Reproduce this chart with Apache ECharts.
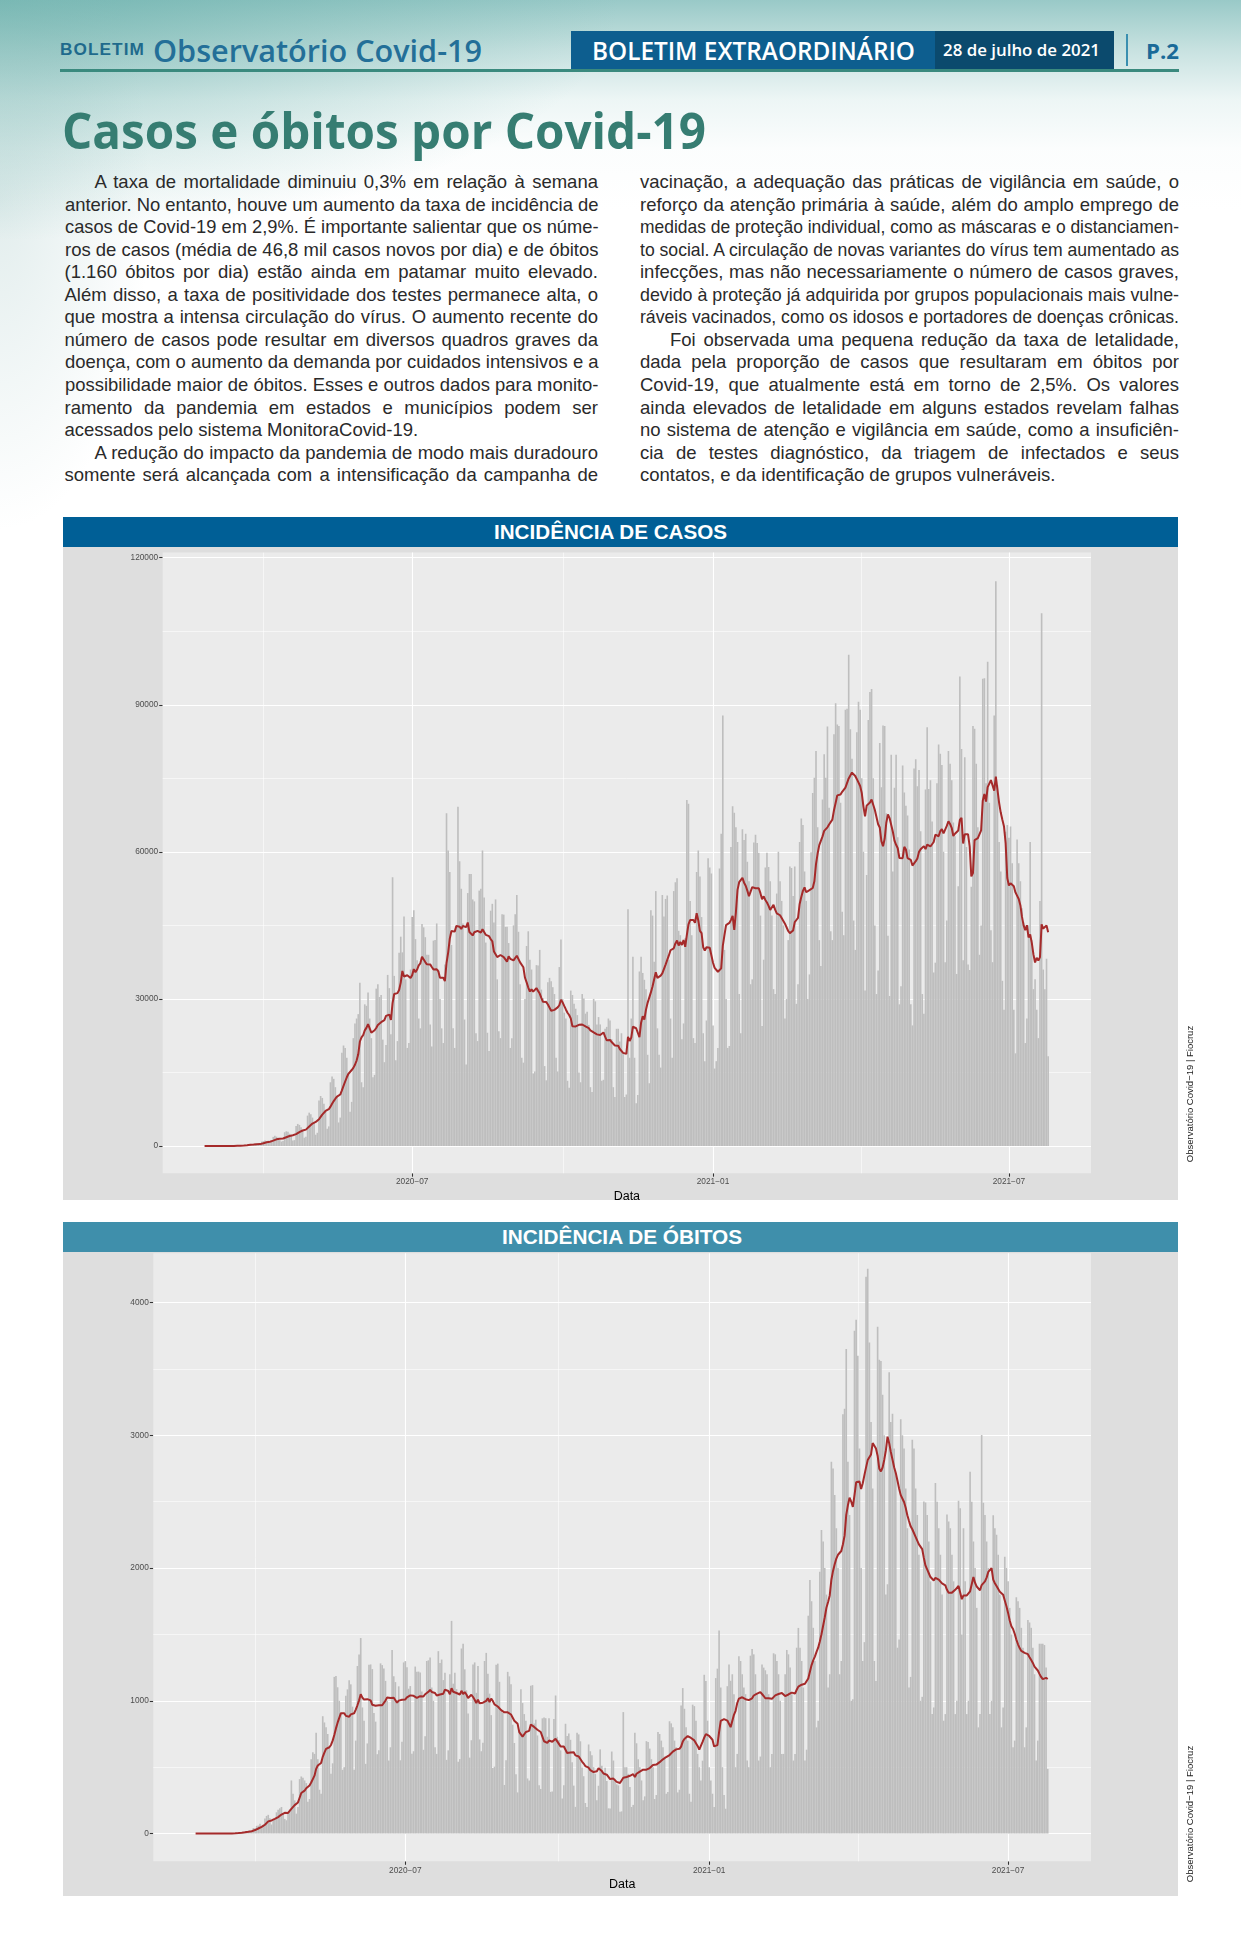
<!DOCTYPE html>
<html><head><meta charset="utf-8">
<script src="https://cdn.jsdelivr.net/npm/echarts@6/dist/echarts.min.js"></script>
<style>
html,body{margin:0;padding:0;}
body{width:1241px;height:1949px;position:relative;overflow:hidden;background:#fff;font-family:"Liberation Sans",Arial,sans-serif;}
#bg{position:absolute;left:0;top:0;width:1241px;height:700px;
 background:
  radial-gradient(ellipse 620px 240px at 0px 0px, rgba(90,168,162,0.55), rgba(90,168,162,0) 100%),
  radial-gradient(ellipse 150px 330px at 0px 200px, rgba(190,215,214,0.45), rgba(190,215,214,0) 100%),
  linear-gradient(180deg, rgba(135,192,190,0.85) 0px, rgba(170,210,208,0.65) 50px, rgba(210,232,231,0.4) 100px, rgba(238,246,246,0.2) 150px, rgba(255,255,255,0) 210px);}
.fx{position:absolute;white-space:nowrap;}
.fx span{display:inline-block;white-space:nowrap;transform-origin:left center;}
.line{position:absolute;height:22.5px;line-height:22.5px;font-size:18.5px;color:#2a2a2a;white-space:nowrap;}
.line span{display:inline-block;white-space:nowrap;transform-origin:left center;}
.box{position:absolute;}
#chart{position:absolute;left:0;top:0;width:1241px;height:1949px;z-index:5;}
</style></head>
<body>
<div id="bg"></div>

<!-- header -->
<div class="fx" data-w="85" style="left:60px;top:40px;height:20px;line-height:20px;font-size:16px;font-weight:bold;color:#1f6a8c;letter-spacing:1px;"><span>BOLETIM</span></div>
<div class="fx" data-w="329" style="left:153px;top:30px;height:40px;line-height:40px;font-size:31px;font-weight:600;color:#236f98;font-family:'Open Sans','Liberation Sans',sans-serif;"><span>Observatório Covid-19</span></div>
<div class="box" style="left:60px;top:68.5px;width:1119px;height:3px;background:#3a8a7e;"></div>
<div class="box" style="left:571px;top:31px;width:364px;height:37.5px;background:#0d5e8f;"></div>
<div class="box" style="left:935px;top:31px;width:179px;height:37.5px;background:#0b4a6d;"></div>
<div class="fx" data-w="323" style="left:592px;top:32px;height:36px;line-height:36px;font-size:25px;font-weight:600;color:#fff;font-family:'Open Sans','Liberation Sans',sans-serif;"><span>BOLETIM EXTRAORDINÁRIO</span></div>
<div class="fx" data-w="157" style="left:943px;top:32px;height:36px;line-height:36px;font-size:17px;font-weight:600;color:#fff;font-family:'Open Sans','Liberation Sans',sans-serif;"><span>28 de julho de 2021</span></div>
<div class="box" style="left:1126px;top:34px;width:2px;height:32px;background:#3a8fb0;"></div>
<div class="fx" data-w="33" style="left:1146px;top:32px;height:36px;line-height:36px;font-size:22px;font-weight:bold;color:#1a6a98;font-family:'Open Sans','Liberation Sans',sans-serif;"><span>P.2</span></div>

<!-- title -->
<div class="fx" data-w="644" style="left:62px;top:100px;height:60px;line-height:60px;font-size:50px;font-weight:bold;color:#367d72;font-family:'Open Sans','Liberation Sans',sans-serif;"><span>Casos e óbitos por Covid-19</span></div>

<div id="text"></div>

<!-- chart panels -->
<div class="box" style="left:63.4px;top:517.3px;width:1114.2px;height:30px;background:#005f96;"></div>
<div class="box" style="left:63.4px;top:547px;width:1114.2px;height:653px;background:#dedede;"></div>
<div class="fx" data-w="233" style="left:494px;top:517.3px;height:30px;line-height:30px;font-size:21px;font-weight:bold;color:#fff;"><span>INCIDÊNCIA DE CASOS</span></div>

<div class="box" style="left:63.4px;top:1222px;width:1114.2px;height:30px;background:#3f8fab;"></div>
<div class="box" style="left:63.4px;top:1252px;width:1114.2px;height:644px;background:#dedede;"></div>
<div class="fx" data-w="240" style="left:502px;top:1222px;height:30px;line-height:30px;font-size:21px;font-weight:bold;color:#fff;"><span>INCIDÊNCIA DE ÓBITOS</span></div>

<div id="chart"></div>

<script>
// ---------------- DATA ----------------
const firstDay = '2020-02-25'; // daily series start (Tuesday)

// Casos novos por dia (Tue..Mon per row)
const casesDaily = [
0,1,0,0,1,0,0,
0,1,5,5,6,7,5,
9,18,25,21,23,79,34,
57,57,137,193,283,224,418,
345,310,232,482,502,487,352,
900,1000,1100,1000,1100,700,900,
1850,2100,1900,1700,1200,900,1000,
2800,3000,2900,2500,2100,1100,1200,
4100,4500,4300,3800,3100,1700,1900,
6200,6800,6500,5800,4800,2300,2700,
9300,10200,9800,8600,7100,3500,4000,
13000,14200,13700,12000,10000,4800,5800,
19000,20500,20000,18000,15000,7000,9000,
22000,25000,26000,26900,33300,13000,12000,
28900,28600,31300,26000,22000,14000,14500,
32100,33000,30400,30800,21700,17100,20600,
34900,32200,22800,54800,34700,17500,21400,
39400,42700,39500,46800,34000,20000,21000,
36000,46700,48100,42200,37900,26000,24000,
45300,44600,42600,39000,39000,24800,20300,
41900,42000,45400,36000,30000,24000,21000,
37000,67900,60300,55900,41000,24000,20000,
45000,69200,58100,52500,45400,25800,16600,
51600,55500,55500,50300,49900,23000,21400,
52100,52500,60300,50700,41500,23100,19400,
48000,49400,45600,50300,34000,23400,22000,
47300,47200,44700,44700,41400,20000,22000,
45000,47300,51200,43700,33000,18000,17000,
30000,40800,43800,38000,36000,14800,15200,
36900,36800,40000,31900,30200,16300,13400,
33400,34300,33600,32400,31000,18000,15200,
36500,42100,30000,27200,26000,13300,11900,
31700,30800,29000,28000,26700,15000,13000,
31000,30100,27000,27400,24700,12000,11000,
30000,29500,24800,26300,24800,13300,13500,
23900,24300,26000,25600,21800,12000,10000,
23900,23900,21300,23000,18900,10000,10500,
48300,18000,26000,38600,18000,8700,10400,
35600,38600,35300,33900,32000,18600,12800,
48100,47000,37600,52000,24000,18600,16000,
51200,46800,50400,51100,38000,26000,18000,
52000,53800,54600,43900,43000,21800,25000,
42400,70600,69800,50000,43000,22000,21000,
55900,60300,55000,46700,23000,17300,25600,
58700,56800,55600,24600,15800,17300,20000,
56600,63700,87800,40000,30000,20000,20400,
61000,69300,68000,65000,62000,31000,23000,
64600,62400,63700,58000,54000,33000,34000,
61900,63500,61800,59800,47000,24500,38000,
56800,59800,56900,54000,47000,32000,31000,
51500,60000,54000,50000,45000,26000,30000,
42000,57000,56700,51000,57000,29000,33000,
62000,66800,65500,56000,50000,30000,35000,
59900,72000,75100,80600,65000,42000,36700,
70700,79900,75100,85600,69000,43800,42000,
84000,90300,86000,85700,70000,47800,43000,
89000,89200,100200,85000,79000,46000,40000,
84400,90600,89000,75000,60000,31700,55300,
86900,92600,93200,75000,45000,31000,35800,
82200,73200,85800,85700,67900,42900,30600,
79800,56000,73100,79800,63000,28900,32600,
77600,72100,69400,67400,60500,28900,24600,
77000,78900,73400,76700,64200,31000,27000,
72700,85400,72800,74600,66200,35400,37400,
74000,81900,80000,77700,60000,37500,46000,
80600,78000,74600,66000,63200,35100,53000,
95800,81000,37900,79300,61000,37000,35900,
52900,85700,85100,78000,65000,39000,45000,
95300,95400,74000,98800,70000,44000,37500,
87800,115200,73600,62000,56000,33700,27800,
64100,65500,62900,65200,57700,27800,18900,
62500,57700,54000,48500,45600,21000,26000,
45000,62000,42000,32000,34000,27800,22000,
50000,108700,36000,32000,38200,18300
];

// Óbitos novos por dia (Tue..Mon per row)
const deathsDaily = [
0,0,0,0,0,0,0,
0,0,0,0,0,0,0,
0,0,0,0,0,0,0,
1,3,4,4,7,7,9,
12,11,20,15,22,22,23,
42,40,58,60,73,54,67,
114,133,141,115,68,99,105,
160,180,190,200,150,110,100,
160,180,400,300,250,150,200,
410,430,420,400,380,240,260,
560,612,600,759,560,330,300,
884,837,800,750,650,450,529,
1180,1186,1102,1000,900,480,500,
1039,1086,1155,1124,956,480,700,
1262,1349,1473,950,850,525,679,
1272,1274,1239,909,843,598,627,
1282,1269,1243,1150,1000,550,650,
1383,1185,1141,990,1109,552,692,
1289,1299,1252,1091,1111,602,620,
1258,1218,1220,1214,1071,631,733,
1300,1305,1327,1100,1000,650,600,
1374,1284,1311,1156,1211,555,627,
1200,1602,1129,1212,1088,541,561,
1394,1430,1237,1079,905,572,703,
1274,1289,1060,1262,709,620,684,
1300,1361,1204,1054,892,494,504,
1271,1280,1143,922,908,366,553,
1218,1184,1125,820,682,447,310,
780,1087,983,900,850,415,400,
1113,1118,829,858,739,363,336,
868,874,869,729,869,314,317,
863,1040,729,705,627,264,364,
827,734,754,706,538,361,201,
759,747,695,497,432,230,200,
671,620,590,500,450,250,360,
634,510,459,495,396,190,189,
618,550,412,371,363,164,167,
915,500,500,450,350,200,216,
759,680,560,500,400,250,280,
696,690,640,560,500,260,290,
765,750,700,650,580,300,313,
846,830,800,700,650,310,330,
964,1096,940,800,700,300,240,
971,960,850,600,500,400,549,
1196,1150,850,500,400,300,200,
1171,1242,1530,1100,500,290,187,
1110,1274,1151,1200,1050,500,600,
1336,1300,1200,1100,1050,550,500,
1340,1390,1350,1200,1050,550,580,
1274,1250,1230,1200,1050,500,600,
1358,1350,1300,1200,1000,600,600,
1200,1383,1350,1250,1050,550,600,
1400,1549,1400,1300,1100,550,632,
1641,1910,1750,1550,1300,800,849,
1972,2286,2200,2000,1800,1100,1200,
2800,2750,2550,2300,2000,1200,1300,
3158,3200,3650,2800,2400,1000,1012,
3787,3871,3600,2900,2000,1300,1442,
4195,4255,3700,3100,2600,1300,1150,
3818,3569,3560,3305,3000,1800,1878,
3475,3100,3163,2900,2700,1400,1462,
3120,3000,2900,2600,2300,1100,1180,
2966,2900,2600,2400,2100,1000,1030,
2501,2494,2400,2200,1900,900,950,
2641,2500,2300,2100,1800,850,900,
2404,2350,2300,2100,1900,900,1000,
2507,2450,1500,2300,1900,900,1000,
2726,2500,2200,2000,1700,800,900,
3003,2491,2400,2200,2000,900,1000,
2398,2300,2250,2100,1800,800,950,
2086,2000,1900,1700,1500,650,700,
1780,1750,1700,1550,1400,650,800,
1608,1590,1550,1400,1200,550,700,
1430,1430,1430,1420,1250,487
];

// tick values
const xTickDates = ['2020-07-01', '2021-01-01', '2021-07-01'];
const xMinorDates = ['2020-04-01', '2020-10-01T12:00:00Z', '2021-04-01T12:00:00Z'];
const casesTicks = [0, 30000, 60000, 90000, 120000];
const casesMinor = [15000, 45000, 75000, 105000];
const deathsTicks = [0, 1000, 2000, 3000, 4000];
const deathsMinor = [500, 1500, 2500, 3500];
const xRange = ['2020-01-30T09:30:00Z', '2021-08-20T05:00:00Z'];
const casesRange = [-5550, 121050];
const deathsRange = [-209, 4371];

// ---------------- TEXT ----------------
const leftLines = [
 ["A taxa de mortalidade diminuiu 0,3% em relação à semana",1,1],
 ["anterior. No entanto, houve um aumento da taxa de incidência de",0,1],
 ["casos de Covid-19 em 2,9%. É importante salientar que os núme-",0,1],
 ["ros de casos (média de 46,8 mil casos novos por dia) e de óbitos",0,1],
 ["(1.160 óbitos por dia) estão ainda em patamar muito elevado.",0,1],
 ["Além disso, a taxa de positividade dos testes permanece alta, o",0,1],
 ["que mostra a intensa circulação do vírus. O aumento recente do",0,1],
 ["número de casos pode resultar em diversos quadros graves da",0,1],
 ["doença, com o aumento da demanda por cuidados intensivos e a",0,1],
 ["possibilidade maior de óbitos. Esses e outros dados para monito-",0,1],
 ["ramento da pandemia em estados e municípios podem ser",0,1],
 ["acessados pelo sistema MonitoraCovid-19.",0,0],
 ["A redução do impacto da pandemia de modo mais duradouro",1,1],
 ["somente será alcançada com a intensificação da campanha de",0,1]
];
const rightLines = [
 ["vacinação, a adequação das práticas de vigilância em saúde, o",0,1],
 ["reforço da atenção primária à saúde, além do amplo emprego de",0,1],
 ["medidas de proteção individual, como as máscaras e o distanciamen-",0,1],
 ["to social. A circulação de novas variantes do vírus tem aumentado as",0,1],
 ["infecções, mas não necessariamente o número de casos graves,",0,1],
 ["devido à proteção já adquirida por grupos populacionais mais vulne-",0,1],
 ["ráveis vacinados, como os idosos e portadores de doenças crônicas.",0,1],
 ["Foi observada uma pequena redução da taxa de letalidade,",1,1],
 ["dada pela proporção de casos que resultaram em óbitos por",0,1],
 ["Covid-19, que atualmente está em torno de 2,5%. Os valores",0,1],
 ["ainda elevados de letalidade em alguns estados revelam falhas",0,1],
 ["no sistema de atenção e vigilância em saúde, como a insuficiên-",0,1],
 ["cia de testes diagnóstico, da triagem de infectados e seus",0,1],
 ["contatos, e da identificação de grupos vulneráveis.",0,0]
];

(function buildText(){
  const host = document.getElementById('text');
  function col(lines, x0, x1){
    lines.forEach((ln, i) => {
      const d = document.createElement('div');
      d.className = 'line';
      const ind = ln[1] ? 30 : 0;
      d.style.left = (x0 + ind) + 'px';
      d.style.top = (171 + 22.55 * i) + 'px';
      d.dataset.w = (x1 - x0 - ind);
      d.dataset.j = ln[2];
      const s = document.createElement('span');
      s.textContent = ln[0];
      d.appendChild(s);
      host.appendChild(d);
    });
  }
  col(leftLines, 64.5, 598);
  col(rightLines, 640, 1179);
})();

function fitAll(){
  document.querySelectorAll('[data-w]').forEach(el => {
    const w = parseFloat(el.dataset.w);
    const s = el.querySelector('span');
    s.style.wordSpacing = ''; s.style.transform = '';
    const nat = s.getBoundingClientRect().width;
    if (el.dataset.j === '1') {
      const n = (s.textContent.match(/ /g) || []).length;
      if (nat < w && n > 0) { s.style.wordSpacing = ((w - nat) / n) + 'px'; return; }
      if (nat > w) s.style.transform = 'scaleX(' + (w / nat) + ')';
      return;
    }
    if (el.dataset.j === '0') { if (nat > w) s.style.transform = 'scaleX(' + (w / nat) + ')'; return; }
    s.style.transform = 'scaleX(' + (w / nat) + ')';
  });
}

// ---------------- CHART ----------------
const DAY = 86400000;
const t0 = Date.parse(firstDay + 'T00:00:00Z');
const dates = casesDaily.map((_, i) => t0 + i * DAY);
function rolling7(arr){
  return arr.map((_, i) => {
    const a = Math.max(0, i - 6);
    let s = 0; for (let k = a; k <= i; k++) s += arr[k];
    return s / (i - a + 1);
  });
}
const casesMA = rolling7(casesDaily);
const deathsMA = rolling7(deathsDaily);
const ts = s => Date.parse(s.length === 10 ? s + 'T00:00:00Z' : s);
const xTicks = xTickDates.map(ts);
const xMinor = xMinorDates.map(ts);
function fmtMonth(v){ const d = new Date(v); return d.getUTCFullYear() + '\u2212' + String(d.getUTCMonth() + 1).padStart(2, '0'); }
const FONT = '"Liberation Sans", Arial, sans-serif';

function gridMarks(yMajor, yMinor){
  const l = w => ({color: '#ffffff', width: w, type: 'solid', opacity: 1});
  return [].concat(
    xTicks.map(v => ({xAxis: v, lineStyle: l(1.1)})),
    xMinor.map(v => ({xAxis: v, lineStyle: l(0.55)})),
    yMajor.map(v => ({yAxis: v, lineStyle: l(1.1)})),
    yMinor.map(v => ({yAxis: v, lineStyle: l(0.55)}))
  );
}
function xAxisCfg(idx, gap){
  return {gridIndex: idx, type: 'value', min: ts(xRange[0]), max: ts(xRange[1]),
    axisLine: {show: false, onZero: false}, splitLine: {show: false},
    axisTick: {show: true, length: 3.5, customValues: xTicks, lineStyle: {color: '#333333', width: 1.07}},
    axisLabel: {customValues: xTicks, formatter: fmtMonth, color: '#4D4D4D', fontSize: 8.3, fontFamily: FONT, margin: 5},
    name: 'Data', nameLocation: 'middle', nameGap: gap,
    nameTextStyle: {color: '#000', fontSize: 12.5, fontFamily: FONT}};
}
function yAxisCfg(idx, range, ticks){
  return {gridIndex: idx, type: 'value', min: range[0], max: range[1],
    axisLine: {show: false, onZero: false}, splitLine: {show: false},
    axisTick: {show: true, length: 3.5, customValues: ticks, lineStyle: {color: '#333333', width: 1.07}},
    axisLabel: {customValues: ticks, color: '#4D4D4D', fontSize: 8.3, fontFamily: FONT, margin: 4.5,
      formatter: v => String(v)}};
}
function seriesFor(idx, daily, ma, yMajor, yMinor, bw){
  return [
    {type: 'line', xAxisIndex: idx, yAxisIndex: idx, data: [[dates[0], 0]], symbol: 'none',
     lineStyle: {width: 0, opacity: 0}, silent: true, z: 1,
     markLine: {silent: true, symbol: ['none', 'none'], label: {show: false}, z: 1, animation: false,
       emphasis: {disabled: true}, data: gridMarks(yMajor, yMinor)}},
    {type: 'bar', xAxisIndex: idx, yAxisIndex: idx, data: daily.map((v, i) => [dates[i], v]),
     barWidth: bw, itemStyle: {color: '#BEBEBE'}, silent: true, z: 2, animation: false},
    {type: 'line', xAxisIndex: idx, yAxisIndex: idx, data: ma.map((v, i) => [dates[i], v]),
     showSymbol: false, symbol: 'none', lineStyle: {color: '#A52A2A', width: 2}, itemStyle: {color: '#A52A2A'},
     silent: true, z: 3, animation: false}
  ];
}

function draw(){
  fitAll();
  const chart = echarts.init(document.getElementById('chart'), null, {renderer: 'canvas', width: 1241, height: 1949});
  chart.setOption({
    animation: false,
    backgroundColor: 'transparent',
    grid: [
      {left: 162.7, top: 552.6, width: 928.3, height: 620.6, show: true, backgroundColor: '#EBEBEB', borderWidth: 0},
      {left: 153.3, top: 1253.3, width: 937.7, height: 608, show: true, backgroundColor: '#EBEBEB', borderWidth: 0}
    ],
    xAxis: [xAxisCfg(0, 17), xAxisCfg(1, 16.5)],
    yAxis: [yAxisCfg(0, casesRange, casesTicks), yAxisCfg(1, deathsRange, deathsTicks)],
    series: [].concat(
      seriesFor(0, casesDaily, casesMA, casesTicks, casesMinor, 1.62),
      seriesFor(1, deathsDaily, deathsMA, deathsTicks, deathsMinor, 1.64)
    ),
    graphic: [
      {type: 'text', x: 1190, y: 1094, rotation: Math.PI / 2, silent: true,
       style: {text: 'Observatório Covid\u221219 | Fiocruz', font: '9.5px "Liberation Sans", Arial, sans-serif', fill: '#222', align: 'center', verticalAlign: 'middle'}},
      {type: 'text', x: 1190, y: 1814, rotation: Math.PI / 2, silent: true,
       style: {text: 'Observatório Covid\u221219 | Fiocruz', font: '9.5px "Liberation Sans", Arial, sans-serif', fill: '#222', align: 'center', verticalAlign: 'middle'}}
    ]
  });
}
if (document.fonts && document.fonts.ready) document.fonts.ready.then(draw); else window.addEventListener('load', draw);
</script>
</body></html>
